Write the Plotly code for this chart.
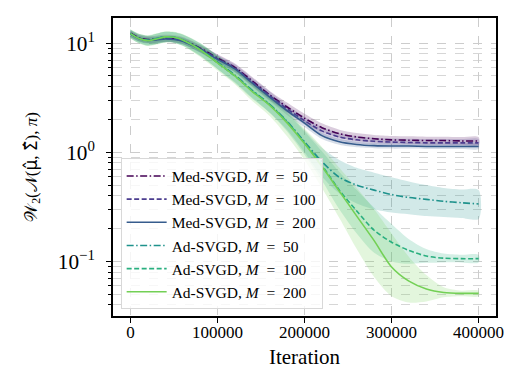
import plotly.graph_objects as go

iters = [0, 10000, 20000, 30000, 40000, 50000, 60000, 80000, 100000, 120000, 140000, 160000,
         180000, 200000, 220000, 240000, 260000, 280000, 300000, 320000, 340000, 360000, 380000, 400000]

med50 = [12.3, 11.2, 10.8, 10.9, 11.1, 11.0, 10.6, 9.0, 7.3, 6.0, 4.5, 3.35, 2.6, 2.05, 1.68, 1.48, 1.38, 1.33, 1.30, 1.29, 1.28, 1.28, 1.27, 1.27]
med50_up = [13.2, 12.0, 11.6, 11.7, 11.9, 11.8, 11.4, 9.7, 7.9, 6.5, 4.9, 3.65, 2.85, 2.25, 1.84, 1.61, 1.50, 1.44, 1.41, 1.40, 1.39, 1.39, 1.38, 1.38]
med50_lo = [11.4, 10.4, 10.0, 10.1, 10.3, 10.2, 9.8, 8.3, 6.7, 5.5, 4.1, 3.05, 2.35, 1.86, 1.53, 1.36, 1.27, 1.23, 1.20, 1.19, 1.18, 1.18, 1.17, 1.17]

med100 = [12.2, 11.1, 10.7, 10.8, 11.0, 10.9, 10.5, 8.9, 7.2, 5.9, 4.4, 3.3, 2.5, 1.95, 1.57, 1.38, 1.30, 1.26, 1.24, 1.23, 1.22, 1.22, 1.22, 1.22]
med100_up = [13.0, 11.8, 11.4, 11.5, 11.7, 11.6, 11.2, 9.6, 7.8, 6.4, 4.8, 3.6, 2.7, 2.12, 1.70, 1.50, 1.41, 1.36, 1.34, 1.33, 1.32, 1.32, 1.32, 1.32]
med100_lo = [11.4, 10.4, 10.0, 10.1, 10.3, 10.2, 9.8, 8.2, 6.6, 5.4, 4.0, 3.0, 2.3, 1.80, 1.45, 1.28, 1.20, 1.17, 1.15, 1.14, 1.13, 1.13, 1.13, 1.13]

med200 = [12.2, 11.0, 10.6, 10.7, 10.9, 10.8, 10.4, 8.8, 7.1, 5.8, 4.3, 3.2, 2.4, 1.85, 1.42, 1.25, 1.18, 1.15, 1.14, 1.14, 1.13, 1.13, 1.13, 1.13]
med200_up = [13.0, 11.7, 11.3, 11.4, 11.6, 11.5, 11.1, 9.4, 7.6, 6.2, 4.6, 3.45, 2.6, 2.0, 1.52, 1.33, 1.25, 1.22, 1.21, 1.21, 1.20, 1.20, 1.20, 1.20]
med200_lo = [11.4, 10.3, 9.9, 10.0, 10.2, 10.1, 9.7, 8.2, 6.6, 5.4, 4.0, 2.95, 2.2, 1.70, 1.32, 1.17, 1.11, 1.09, 1.08, 1.08, 1.07, 1.07, 1.07, 1.07]

ad50 = [12.2, 11.0, 10.6, 11.0, 11.4, 11.3, 10.7, 8.8, 6.7, 5.1, 3.7, 2.75, 1.92, 1.25, 0.82, 0.59, 0.50, 0.45, 0.41, 0.385, 0.37, 0.355, 0.345, 0.336]
ad50_up = [13.3, 12.1, 11.7, 12.2, 12.7, 12.6, 12.0, 10.0, 7.7, 5.9, 4.3, 3.25, 2.35, 1.6, 1.1, 0.85, 0.72, 0.65, 0.59, 0.54, 0.50, 0.47, 0.455, 0.45]
ad50_lo = [11.1, 10.0, 9.5, 9.8, 10.2, 10.1, 9.5, 7.7, 5.8, 4.4, 3.15, 2.3, 1.6, 1.0, 0.60, 0.42, 0.34, 0.30, 0.28, 0.27, 0.26, 0.255, 0.25, 0.245]

ad100 = [12.2, 11.0, 10.6, 11.0, 11.4, 11.3, 10.7, 8.7, 6.6, 5.0, 3.65, 2.72, 1.9, 1.22, 0.76, 0.45, 0.29, 0.193, 0.15, 0.126, 0.112, 0.107, 0.106, 0.106]
ad100_up = [13.3, 12.1, 11.7, 12.2, 12.7, 12.6, 12.0, 9.9, 7.6, 5.8, 4.2, 3.2, 2.3, 1.55, 1.02, 0.66, 0.45, 0.31, 0.22, 0.16, 0.13, 0.118, 0.115, 0.115]
ad100_lo = [11.1, 10.0, 9.5, 9.8, 10.2, 10.1, 9.5, 7.6, 5.8, 4.3, 3.1, 2.3, 1.55, 0.95, 0.55, 0.30, 0.18, 0.12, 0.10, 0.095, 0.097, 0.098, 0.098, 0.098]

ad200 = [12.2, 11.0, 10.5, 10.9, 11.4, 11.3, 10.7, 8.7, 6.6, 5.0, 3.6, 2.69, 1.86, 1.2, 0.74, 0.44, 0.26, 0.155, 0.089, 0.066, 0.056, 0.052, 0.051, 0.051]
ad200_up = [13.4, 12.2, 11.8, 12.3, 12.8, 12.7, 12.1, 10.0, 7.7, 5.9, 4.3, 3.3, 2.4, 1.65, 1.12, 0.72, 0.47, 0.30, 0.18, 0.11, 0.075, 0.058, 0.054, 0.054]
ad200_lo = [11.0, 9.9, 9.4, 9.7, 10.1, 10.0, 9.4, 7.5, 5.6, 4.2, 2.95, 2.15, 1.4, 0.85, 0.47, 0.25, 0.13, 0.072, 0.048, 0.042, 0.043, 0.047, 0.048, 0.048]

x_ticks = [0, 100000, 200000, 300000, 400000]
x_ticklabels = ["0", "100000", "200000", "300000", "400000"]
y_alias = {"10": "10<sup>1</sup>", "1": "10<sup>0</sup>"}

EQ = "\u2002=\u2002"
labels = ["Med-SVGD, <i>M</i>" + EQ + "50", "Med-SVGD, <i>M</i>" + EQ + "100", "Med-SVGD, <i>M</i>" + EQ + "200",
          "Ad-SVGD, <i>M</i>" + EQ + "50", "Ad-SVGD, <i>M</i>" + EQ + "100", "Ad-SVGD, <i>M</i>" + EQ + "200"]
means = [med50, med100, med200, ad50, ad100, ad200]
uppers = [med50_up, med100_up, med200_up, ad50_up, ad100_up, ad200_up]
lowers = [med50_lo, med100_lo, med200_lo, ad50_lo, ad100_lo, ad200_lo]
colors = ["#440154", "#4b3d8f", "#365c8d", "#1f928c", "#29af7f", "#73d055"]
dashes = ["7px,2.5px,1.5px,2.5px", "5px,2.5px", "solid"] * 2

def rgba(hexc, a):
    h = hexc.lstrip("#")
    return "rgba(%d,%d,%d,%.2f)" % (int(h[0:2], 16), int(h[2:4], 16), int(h[4:6], 16), a)

FONT = "Liberation Serif, DejaVu Serif, serif"
fig = go.Figure()

for i in range(6):
    fig.add_trace(go.Scatter(
        x=iters + iters[::-1], y=uppers[i] + lowers[i][::-1],
        fill="toself", fillcolor=rgba(colors[i], 0.2), line=dict(width=0, shape="spline", smoothing=0.8),
        mode="lines", hoverinfo="skip", showlegend=False))

for i in range(6):
    fig.add_trace(go.Scatter(
        x=iters, y=means[i], mode="lines", name=labels[i],
        line=dict(color=colors[i], width=1.6, dash=dashes[i], shape="spline", smoothing=0.8)))

ytitle = ("𝒲<sub>2</sub>(𝒩(<span style=\"font-family:'DejaVu Sans'\">μ̂</span>, "
          "<span style=\"font-family:'DejaVu Sans'\">Σ̂</span>), <i>π</i>)")

# page body has an 8px default margin; size the figure so the plot lands where the reference has it
fig.update_layout(
    width=509, height=378,
    margin=dict(l=105, r=21, t=10, b=70),
    paper_bgcolor="white", plot_bgcolor="white",
    font=dict(family=FONT, size=17, color="black"),
    legend=dict(x=0.02, y=0.022, xanchor="left", yanchor="bottom",
                bgcolor="rgba(255,255,255,0.8)", bordercolor="#d8d8d8", borderwidth=1,
                font=dict(family=FONT, size=15.5), tracegroupgap=0, itemwidth=40),
)

fig.update_xaxes(
    range=[-20000, 420000], tickvals=x_ticks, ticktext=x_ticklabels,
    showline=True, mirror=True, linecolor="black", linewidth=1.5,
    ticks="outside", ticklen=5, tickwidth=1.2, tickcolor="black",
    showgrid=True, gridcolor="#cccccc", griddash="dash", gridwidth=0.8,
    zeroline=False, tickfont=dict(size=17), ticklabelstandoff=-5, automargin=False,
    title=dict(text="Iteration", font=dict(size=21), standoff=8),
)

fig.update_yaxes(
    type="log", range=[-1.5, 1.23], dtick=1, exponentformat="power", labelalias=y_alias,
    showline=True, mirror=True, linecolor="black", linewidth=1.5,
    ticks="outside", ticklen=5, tickwidth=1.2, tickcolor="black",
    showgrid=True, gridcolor="#cccccc", griddash="dash", gridwidth=0.8,
    minor=dict(ticks="outside", ticklen=3, tickcolor="black", showgrid=True,
               gridcolor="#d6d6d6", griddash="dash", gridwidth=0.8),
    zeroline=False, tickfont=dict(size=17), ticklabelstandoff=8, automargin=False,
    title=dict(text=ytitle, font=dict(size=17), standoff=16),
)

fig.write_html("out.html")
